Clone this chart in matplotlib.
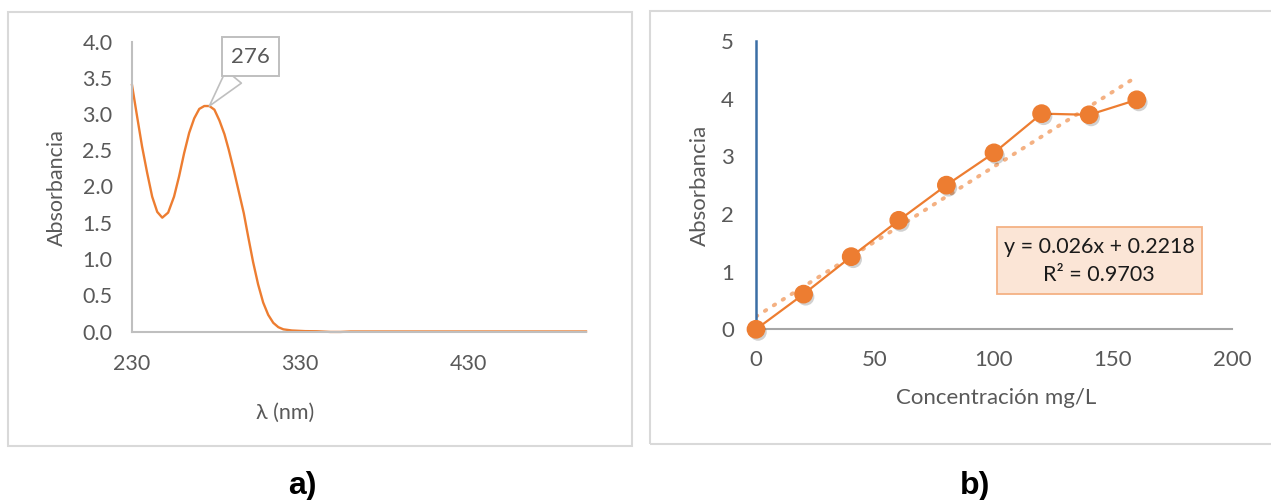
import matplotlib.pyplot as plt
from matplotlib import patheffects
from matplotlib.patches import Rectangle

plt.rcParams['font.family'] = ['Lato', 'DejaVu Sans']

# a) UV spectrum
wavelength = [230, 233, 236, 239, 242, 245, 248, 251.5, 255, 258,
              261, 264, 267, 270, 273, 276, 279, 282, 285, 287.5,
              290.5, 293.5, 296.5, 299, 302, 305, 308, 311, 314, 317,
              320, 325, 333, 340, 348, 354, 360, 400, 450, 500]
absorbance = [3.40, 2.97, 2.55, 2.19, 1.86, 1.65, 1.57, 1.64, 1.86, 2.14,
              2.46, 2.74, 2.94, 3.07, 3.11, 3.11, 3.06, 2.91, 2.72, 2.51,
              2.23, 1.93, 1.63, 1.32, 0.96, 0.65, 0.40, 0.23, 0.12, 0.06,
              0.03, 0.014, 0.005, 0.003, -0.006, -0.006, 0.0, 0.0, 0.0, 0.0]
peak_nm = 276
peak_abs = 3.11
spec_xticks = [230, 330, 430]
spec_yticks = [0.0, 0.5, 1.0, 1.5, 2.0, 2.5, 3.0, 3.5, 4.0]

# b) calibration curve
conc = [0, 20, 40, 60, 80, 100, 120, 140, 160]
abs_cal = [0.0, 0.61, 1.26, 1.89, 2.50, 3.06, 3.74, 3.72, 3.98]
slope = 0.026
intercept = 0.2218
r2 = 0.9703
fit_range = [0, 160]
cal_xticks = [0, 50, 100, 150, 200]
cal_yticks = [0, 1, 2, 3, 4, 5]

ORANGE = '#ed7d31'
TXT = '#595959'
W, H = 1271, 500


def box(x0, y0, x1, y1):
    # pixel coords (top-left origin) -> figure fraction
    return [x0 / W, 1 - y1 / H, (x1 - x0) / W, (y1 - y0) / H]


fig = plt.figure(figsize=(W / 100, H / 100), dpi=100)

# panel frames
for x0, y0, x1, y1 in [(8, 12, 632, 446), (650, 11, 1276, 444)]:
    b = box(x0, y0, x1, y1)
    fig.add_artist(Rectangle((b[0], b[1]), b[2], b[3], transform=fig.transFigure,
                             fill=False, ec='#d9d9d9', lw=1.5))

# ---- a) spectrum
ax1 = fig.add_axes(box(132, 41.5, 586, 331.5))
ax1.plot(wavelength, absorbance, color=ORANGE, lw=1.7, clip_on=False)
ax1.set_xlim(230, 500)
ax1.set_ylim(0, 4)
ax1.set_xticks(spec_xticks)
ax1.set_yticks(spec_yticks)
ax1.set_yticklabels([f"{v:.1f}" for v in spec_yticks])
ax1.tick_params(length=0, labelsize=15.5, labelcolor=TXT)
ax1.tick_params(axis='x', pad=16)
ax1.tick_params(axis='y', pad=14)
for s in ['top', 'right']:
    ax1.spines[s].set_visible(False)
for s in ['left', 'bottom']:
    ax1.spines[s].set_color('#bfbfbf')
    ax1.spines[s].set_linewidth(1.5)
ax1.set_xlabel('λ (nm)', fontsize=15.5, color=TXT, va='center')
ax1.xaxis.set_label_coords(0.337, -0.281)
ax1.set_ylabel('Absorbancia', fontsize=15.5, color=TXT, va='center')
ax1.yaxis.set_label_coords(-0.165, 0.498)

ax1.annotate(str(peak_nm), xy=(peak_nm, peak_abs), xytext=(29.5, 35.5),
             textcoords='offset points', ha='center', va='center',
             fontsize=16, color=TXT,
             bbox=dict(boxstyle='square,pad=0.42', fc='white', ec='#bfbfbf', lw=1.4),
             arrowprops=dict(arrowstyle='wedge,tail_width=0.9', fc='white',
                             ec='#bfbfbf', lw=1.2, shrinkA=0, shrinkB=0))

# ---- b) calibration
ax2 = fig.add_axes(box(756, 41, 1232, 329.3))
fit_y = [slope * x + intercept for x in fit_range]
ax2.plot(fit_range, fit_y, color='#f4b183', lw=2.8, ls=(0, (0.4, 2.3)),
         dash_capstyle='round', zorder=2)
ax2.plot(conc, abs_cal, color=ORANGE, lw=1.6, zorder=3, clip_on=False)
ax2.plot(conc, abs_cal, ls='none', marker='o', ms=12.5, mfc=ORANGE, mec=ORANGE,
         zorder=4, clip_on=False,
         path_effects=[patheffects.SimplePatchShadow(offset=(1.5, -2), shadow_rgbFace='k', alpha=0.18),
                       patheffects.Normal()])
ax2.set_xlim(0, 200)
ax2.set_ylim(0, 5)
ax2.set_xticks(cal_xticks)
ax2.set_yticks(cal_yticks)
ax2.tick_params(length=0, labelsize=16, labelcolor=TXT)
ax2.tick_params(axis='x', pad=15)
ax2.tick_params(axis='y', pad=16)
for s in ['top', 'right']:
    ax2.spines[s].set_visible(False)
ax2.spines['bottom'].set_color('#a6a6a6')
ax2.spines['bottom'].set_linewidth(1.5)
ax2.spines['left'].set_color('#3b6ea5')
ax2.spines['left'].set_linewidth(1.8)
ax2.set_xlabel('Concentración mg/L', fontsize=16, color=TXT, va='center')
ax2.xaxis.set_label_coords(0.504, -0.238)
ax2.set_ylabel('Absorbancia', fontsize=16, color=TXT, va='center')
ax2.yaxis.set_label_coords(-0.118, 0.5)

eb = box(997, 227, 1202, 294)
fig.add_artist(Rectangle((eb[0], eb[1]), eb[2], eb[3], transform=fig.transFigure,
                         fc='#fbe5d6', ec='#f4b183', lw=1.3))
fig.text(1099 / W, 1 - 247 / H, f"y = {slope}x + {intercept}", ha='center', va='center',
         fontsize=15.5, color='#1a1a1a')
fig.text(1099 / W, 1 - 275 / H, f"R² = {r2}", ha='center', va='center',
         fontsize=15.5, color='#1a1a1a')

# captions
for label, cx in [('a)', 302.5), ('b)', 975)]:
    fig.text(cx / W, 1 - 494 / H, label, ha='center', va='baseline',
             family='Liberation Sans', weight='bold', fontsize=23, color='black')

fig.savefig('out.png', dpi=100)
